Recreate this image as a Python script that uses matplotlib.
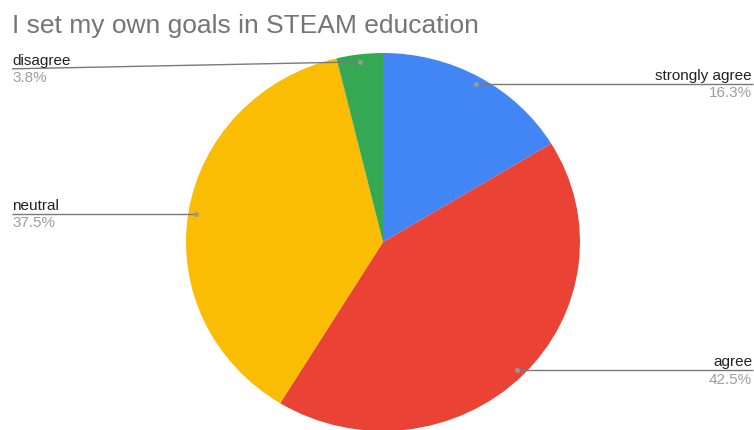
import numpy as np
import matplotlib
matplotlib.use("Agg")
import matplotlib.pyplot as plt

plt.rcParams['font.family'] = ['Liberation Sans', 'DejaVu Sans']

title = "I set my own goals in STEAM education"
categories = ["strongly agree", "agree", "neutral", "disagree"]
shares = [16.3, 42.5, 37.5, 3.8]
colors = ["#4285F4", "#EA4335", "#FBBC04", "#34A853"]

W, H = 754, 430
fig = plt.figure(figsize=(W / 100, H / 100), dpi=100, facecolor='white')

# pie axes, slightly wider than tall
left, right, top, bottom = 186, 580, 53, 431
ax = fig.add_axes([left / W, (H - bottom) / H, (right - left) / W, (bottom - top) / H])
wedges, _ = ax.pie(shares, colors=colors, startangle=90, counterclock=False,
                   wedgeprops=dict(linewidth=0))
ax.set_aspect('auto')
ax.set_xlim(-1, 1)
ax.set_ylim(-1, 1)
ax.axis('off')

# overlay in pixel coordinates (y down) for labels and leader lines
ov = fig.add_axes([0, 0, 1, 1], zorder=5)
ov.set_xlim(0, W)
ov.set_ylim(H, 0)
ov.axis('off')
ov.patch.set_alpha(0)

fig.canvas.draw()
total = sum(shares)
cum = 0
# label side and vertical offset of the label anchor from the dot
sides = {"strongly agree": ("right", 0), "agree": ("right", 0),
         "neutral": ("left", 0), "disagree": ("left", 7)}
for name, val in zip(categories, shares):
    mid = (cum + val / 2) / total
    cum += val
    ang = np.deg2rad(90 - 360 * mid)
    r = 0.96
    px, py = ax.transData.transform((r * np.cos(ang), r * np.sin(ang)))
    py = H - py
    side, dy = sides[name]
    ly = py + dy
    if side == "right":
        lx, ha, tx = 753, 'right', 752
    else:
        lx, ha, tx = 12, 'left', 12
    ov.plot([px, lx], [py, ly], color='#7a7a7a', lw=1.0, solid_capstyle='butt')
    ov.plot(px, py, 'o', ms=3.5, color='#9a9a9a', mec='none')
    ov.text(tx, ly - 4, name, ha=ha, va='baseline', fontsize=11, color='#222222')
    ov.text(tx, ly + 2.5, f"{val}%", ha=ha, va='top', fontsize=11, color='#9e9e9e')

ov.text(12, 33, title, ha='left', va='baseline', fontsize=19, color='#757575')

fig.savefig("out.png", dpi=100, facecolor='white')
